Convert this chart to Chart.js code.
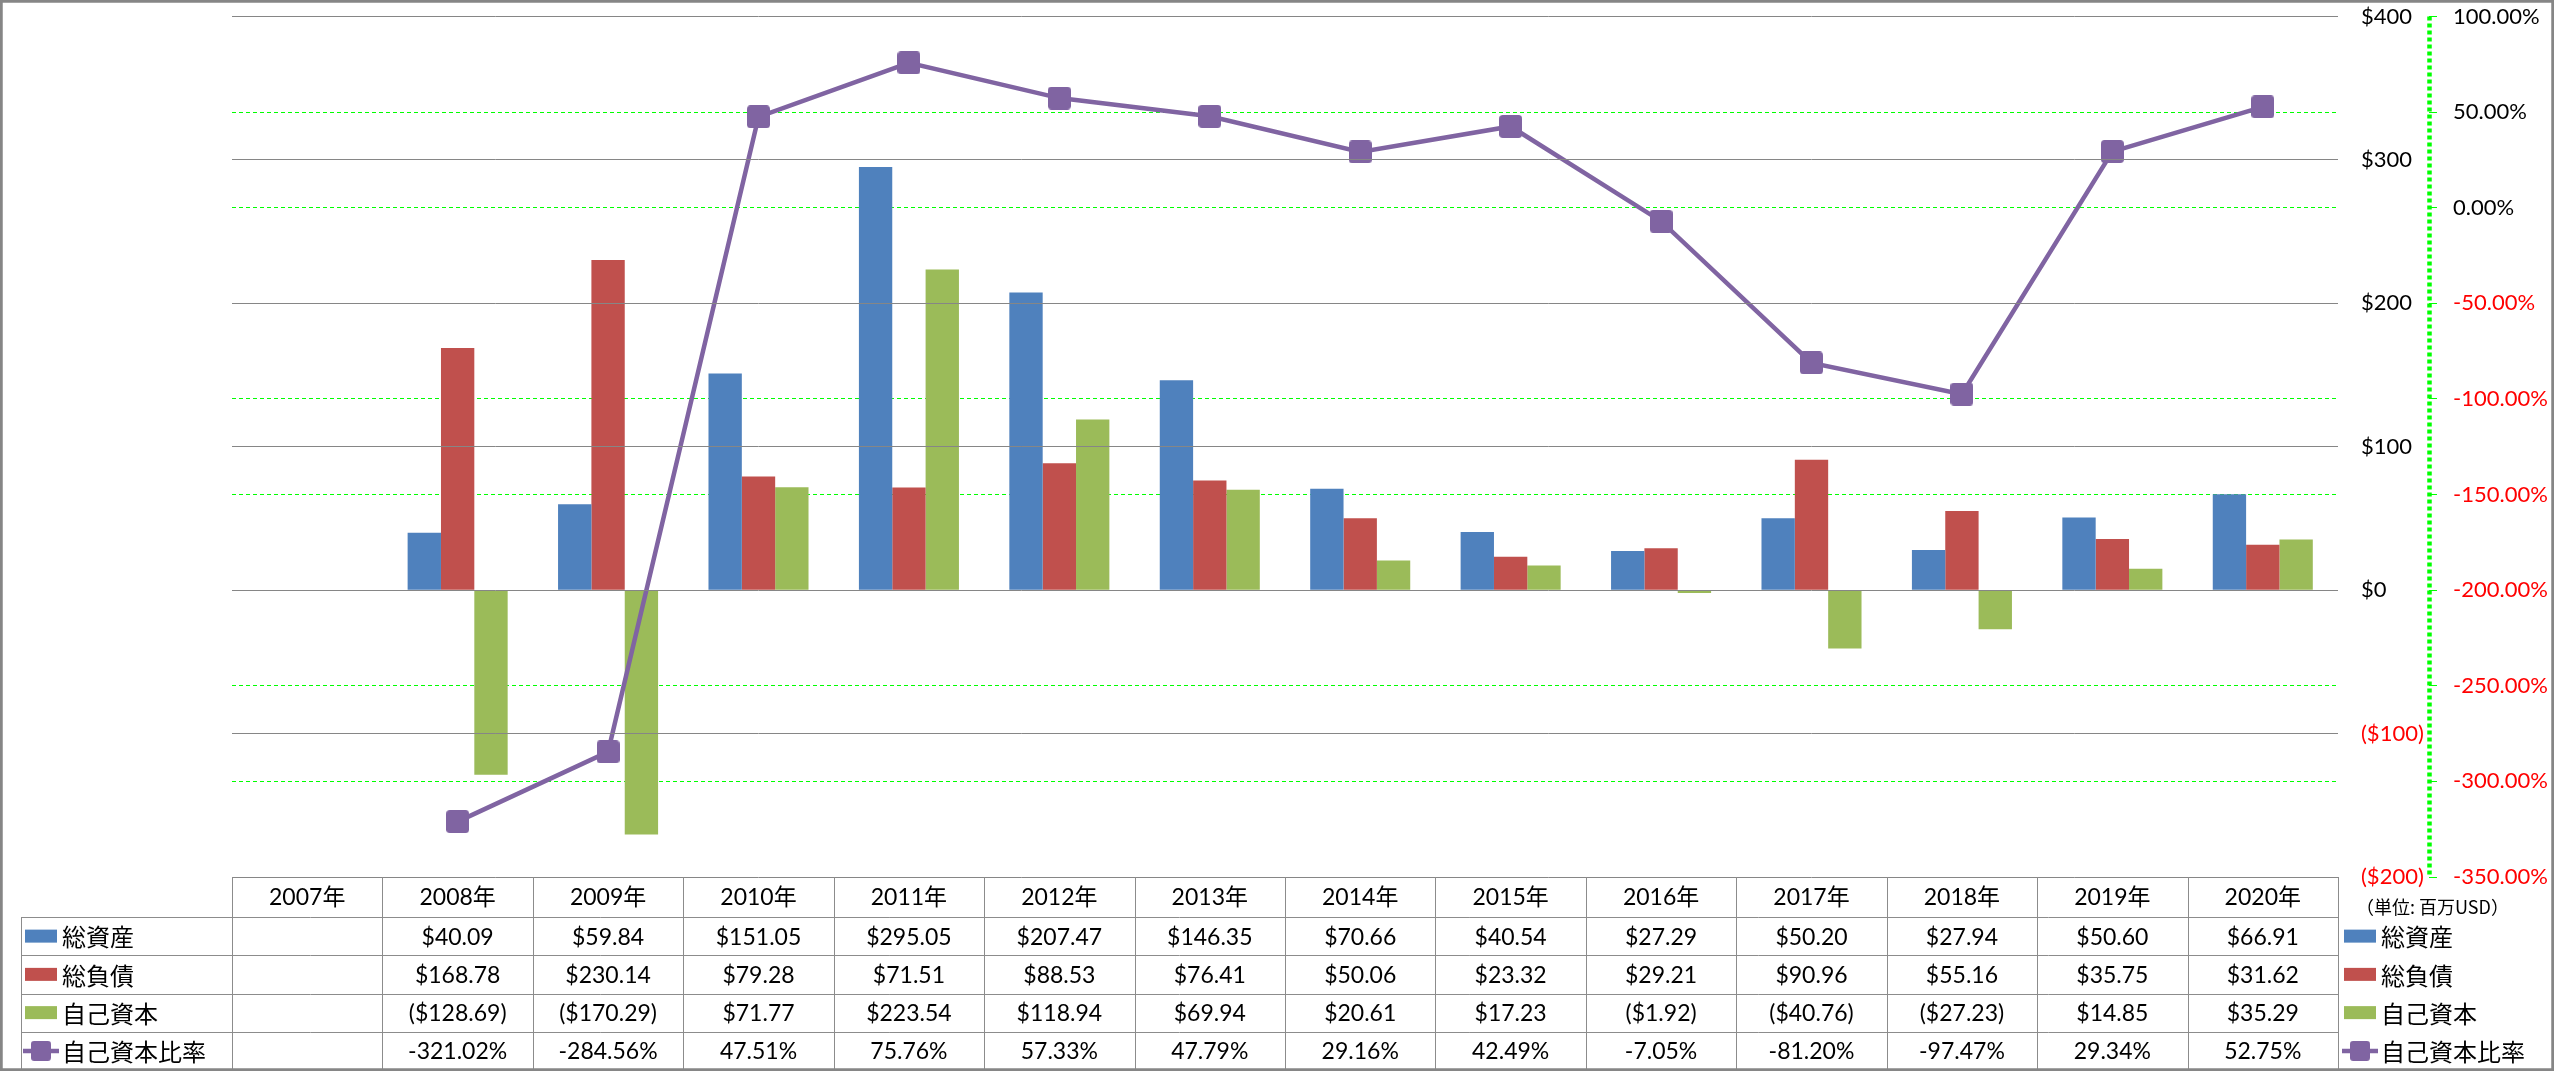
<!DOCTYPE html>
<html>
<head>
<meta charset="utf-8">
<script src="https://cdn.jsdelivr.net/npm/chart.js@4.4.1/dist/chart.umd.min.js"></script>
<style>
html, body { margin: 0; padding: 0; background: #fff; overflow: hidden; }
#wrap { width: 2554px; height: 1071px; position: relative; }
</style>
</head>
<body>
<div id="wrap"><canvas id="bs-chart"></canvas></div>
<script>
const years = ["2007年", "2008年", "2009年", "2010年", "2011年", "2012年", "2013年",
	"2014年", "2015年", "2016年", "2017年", "2018年", "2019年", "2020年"];
const totalAssets = [null, 40.09, 59.84, 151.05, 295.05, 207.47, 146.35, 70.66, 40.54, 27.29, 50.20, 27.94, 50.60, 66.91];
const totalLiabilities = [null, 168.78, 230.14, 79.28, 71.51, 88.53, 76.41, 50.06, 23.32, 29.21, 90.96, 55.16, 35.75, 31.62];
const equity = [null, -128.69, -170.29, 71.77, 223.54, 118.94, 69.94, 20.61, 17.23, -1.92, -40.76, -27.23, 14.85, 35.29];
const equityRatio = [null, -321.02, -284.56, 47.51, 75.76, 57.33, 47.79, 29.16, 42.49, -7.05, -81.20, -97.47, 29.34, 52.75];

const seriesNames = ["総資産", "総負債", "自己資本", "自己資本比率"];
const unitLabel = "（単位: 百万USD）";
const dollarRange = [-200, 400, 100];
const ratioRange = [-350, 100, 50];

const BLUE = "#4F81BD";
const RED = "#C0504D";
const GREEN = "#9BBB59";
const PURPLE = "#8064A2";
const GRID = "#868686";
const LINE = "#8c8c8c";
const NUM_FONT = "Lato, 'Noto Sans CJK JP', sans-serif";
const JP_FONT = "'Noto Sans CJK JP', sans-serif";

function fmtMoney(v) {
	return v < 0 ? "($" + (-v).toFixed(2) + ")" : "$" + v.toFixed(2);
}
function fmtPct(v) {
	return v.toFixed(2) + "%";
}

function makeMarker(size) {
	const c = document.createElement("canvas");
	c.width = size;
	c.height = size;
	const g = c.getContext("2d");
	const r = size * 0.16;
	g.fillStyle = PURPLE;
	g.beginPath();
	g.moveTo(r, 0);
	g.arcTo(size, 0, size, size, r);
	g.arcTo(size, size, 0, size, r);
	g.arcTo(0, size, 0, 0, r);
	g.arcTo(0, 0, size, 0, r);
	g.closePath();
	g.fill();
	return c;
}
const marker = makeMarker(23);
const legendMarker = makeMarker(20);

function drawLegendKey(ctx, i, x, cy) {
	const colors = [BLUE, RED, GREEN];
	if (i < 3) {
		ctx.fillStyle = colors[i];
		ctx.fillRect(x, cy - 6.5, 32, 13);
	} else {
		ctx.strokeStyle = PURPLE;
		ctx.lineWidth = 4.5;
		ctx.beginPath();
		ctx.moveTo(x - 2, cy);
		ctx.lineTo(x + 34, cy);
		ctx.stroke();
		ctx.drawImage(legendMarker, x + 16 - 10, cy - 10);
	}
}

const tablePlugin = {
	id: "dataTable",
	afterDraw(chart) {
		const ctx = chart.ctx;
		const xs = chart.scales.x;
		const area = chart.chartArea;
		const step = xs.getPixelForValue(1) - xs.getPixelForValue(0);
		const top = area.bottom;
		const headBottom = top + 40;
		const rowH = (1070 - headBottom) / 4;
		const tableLeft = 21;
		const rows = [totalAssets, totalLiabilities, equity, equityRatio];

		ctx.save();
		ctx.strokeStyle = LINE;
		ctx.lineWidth = 1;
		ctx.beginPath();
		// vertical lines
		for (let i = 0; i <= years.length; i++) {
			const x = Math.round(xs.getPixelForValue(i) - step / 2) + 0.5;
			ctx.moveTo(x, top);
			ctx.lineTo(x, 1070);
		}
		ctx.moveTo(tableLeft + 0.5, headBottom);
		ctx.lineTo(tableLeft + 0.5, 1070);
		// horizontal lines
		for (let r = 0; r < 4; r++) {
			const y = Math.round(headBottom + r * rowH) + 0.5;
			ctx.moveTo(tableLeft, y);
			ctx.lineTo(area.right, y);
		}
		ctx.stroke();

		ctx.textAlign = "center";
		ctx.textBaseline = "middle";
		ctx.fillStyle = "#000";
		ctx.font = "23px " + NUM_FONT;
		years.forEach((label, i) => {
			ctx.fillText(label, xs.getPixelForValue(i), (top + headBottom) / 2 + 1);
		});
		rows.forEach((vals, r) => {
			const cy = headBottom + r * rowH + rowH / 2 + 1;
			vals.forEach((v, i) => {
				if (v === null) return;
				ctx.fillText(r === 3 ? fmtPct(v) : fmtMoney(v), xs.getPixelForValue(i), cy);
			});
		});

		// row labels and legend
		ctx.textAlign = "left";
		ctx.font = "24px " + JP_FONT;
		seriesNames.forEach((name, r) => {
			const cy = headBottom + r * rowH + rowH / 2;
			drawLegendKey(ctx, r, 25, cy);
			ctx.fillStyle = "#000";
			ctx.fillText(name, 62, cy + 1);
			drawLegendKey(ctx, r, 2344, cy);
			ctx.fillStyle = "#000";
			ctx.fillText(name, 2381, cy + 1);
		});
		ctx.font = "18px " + JP_FONT;
		ctx.fillText(unitLabel, 2356, 907);

		// dashed secondary axis line
		const y2 = chart.scales.y2;
		ctx.strokeStyle = "#00FF00";
		ctx.setLineDash([4, 3]);
		ctx.beginPath();
		ctx.moveTo(Math.round(y2.left) + 0.5, area.top);
		ctx.lineTo(Math.round(y2.left) + 0.5, area.bottom);
		ctx.stroke();
		ctx.setLineDash([]);

		// outer frame
		ctx.strokeStyle = GRID;
		ctx.strokeRect(0.5, 0.5, chart.width - 1, chart.height - 1);
		ctx.restore();
	},
};

Chart.defaults.font.family = NUM_FONT;

new Chart(document.getElementById("bs-chart"), {
	type: "bar",
	data: {
		labels: years,
		datasets: [
			{
				type: "line",
				label: seriesNames[3],
				data: equityRatio,
				yAxisID: "y2",
				borderColor: PURPLE,
				backgroundColor: PURPLE,
				borderWidth: 4.5,
				pointStyle: marker,
				pointRadius: 12,
				tension: 0,
				order: 0,
			},
			{ label: seriesNames[0], data: totalAssets, backgroundColor: BLUE, yAxisID: "y", order: 1 },
			{ label: seriesNames[1], data: totalLiabilities, backgroundColor: RED, yAxisID: "y", order: 1 },
			{ label: seriesNames[2], data: equity, backgroundColor: GREEN, yAxisID: "y", order: 1 },
		],
	},
	options: {
		responsive: true,
		maintainAspectRatio: false,
		animation: false,
		layout: {
			padding: { left: 232, top: 15, right: 0, bottom: 194 },
		},
		datasets: {
			bar: {
				categoryPercentage: 0.665,
				barPercentage: 1,
			},
		},
		plugins: {
			legend: { display: false },
			tooltip: { enabled: false },
		},
		scales: {
			x: {
				display: false,
				grid: { display: false },
			},
			y: {
				position: "right",
				min: dollarRange[0],
				max: dollarRange[1],
				ticks: {
					stepSize: dollarRange[2],
					padding: 23,
					font: { size: 22 },
					color: (c) => (c.tick && c.tick.value < 0 ? "#FF0000" : "#000000"),
					callback: (v) => (v < 0 ? "($" + -v + ")" : "$" + v),
				},
				grid: { color: GRID, lineWidth: 1, drawTicks: false, z: 1 },
				border: { display: true, color: GRID, width: 1 },
				afterFit: (s) => {
					s.width = 91;
					s.paddingTop = 0;
					s.paddingBottom = 0;
				},
			},
			y2: {
				position: "right",
				min: ratioRange[0],
				max: ratioRange[1],
				ticks: {
					stepSize: ratioRange[2],
					padding: 16,
					font: { size: 22 },
					color: (c) => (c.tick && c.tick.value < 0 ? "#FF0000" : "#000000"),
					callback: (v) => fmtPct(v),
				},
				grid: {
					// every third line falls on a dollar gridline, which stays grey
					color: (c) => (c.index % 3 === 0 ? "rgba(0,0,0,0)" : "#00FF00"),
					tickColor: "#00FF00",
					tickLength: 8,
					lineWidth: 1,
				},
				border: { display: false, dash: [4, 3] },
				afterFit: (s) => {
					s.width = 125;
					s.paddingTop = 0;
					s.paddingBottom = 0;
				},
			},
		},
	},
	plugins: [tablePlugin],
});
</script>
</body>
</html>
